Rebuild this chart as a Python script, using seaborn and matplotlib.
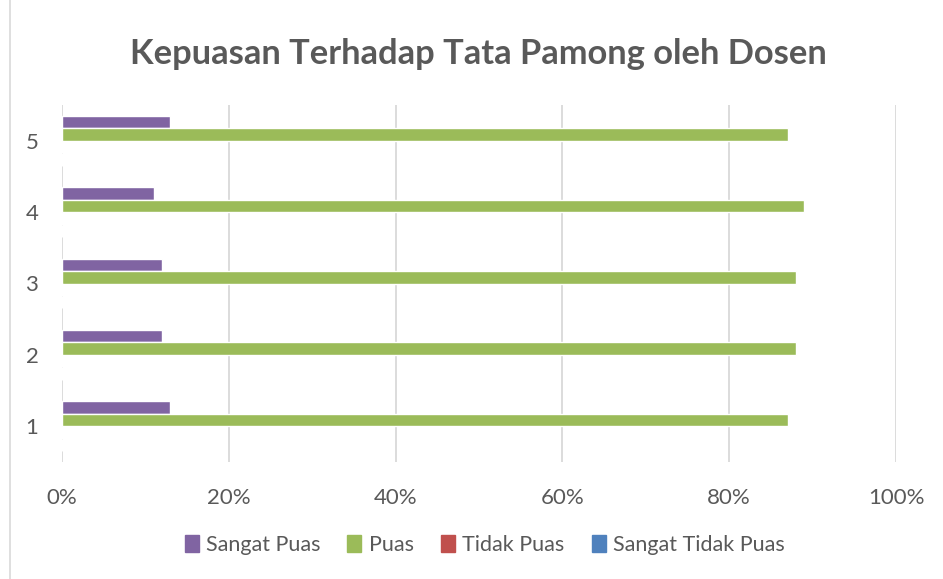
import pandas as pd
import numpy as np
import matplotlib.pyplot as plt
import seaborn as sns
from matplotlib.lines import Line2D
from matplotlib.ticker import PercentFormatter

# Data
kategori = ['1', '2', '3', '4', '5']
sangat_puas = [13, 12, 12, 11, 13]
puas = [87, 88, 88, 89, 87]
tidak_puas = [0, 0, 0, 0, 0]
sangat_tidak_puas = [0, 0, 0, 0, 0]

seri = ['Sangat Puas', 'Puas', 'Tidak Puas', 'Sangat Tidak Puas']
warna = ['#8064a2', '#9bbb59', '#c0504d', '#4f81bd']

df = pd.DataFrame({
    'kategori': kategori * 4,
    'nilai': sangat_puas + puas + tidak_puas + sangat_tidak_puas,
    'seri': [s for s in seri for _ in kategori],
})

sns.set_style('white')
plt.rcParams['font.family'] = ['Lato', 'DejaVu Sans']

fig = plt.figure(figsize=(9.43, 5.79), dpi=100)
ax = fig.add_axes([62 / 943, 1 - 462 / 579, (896 - 62) / 943, (462 - 105) / 579])

sns.barplot(data=df, x='nilai', y='kategori', hue='seri', order=kategori[::-1],
            hue_order=seri, palette=warna, width=0.7, orient='h', ax=ax,
            saturation=1, legend=False, zorder=3)

ax.set_xlim(0, 100)
ax.set_ylim(4.5, -0.5)
ax.set_xticks([0, 20, 40, 60, 80, 100])
ax.xaxis.set_major_formatter(PercentFormatter(decimals=0))
ax.grid(axis='x', color='#d9d9d9', linewidth=1.3, zorder=0)
for s in ax.spines.values():
    s.set_visible(False)
ax.tick_params(axis='both', length=0, labelsize=16, labelcolor='#595959')
ax.tick_params(axis='x', pad=19)
ax.tick_params(axis='y', pad=17)
ax.set_xlabel('')
ax.set_ylabel('')

fig.suptitle('Kepuasan Terhadap Tata Pamong oleh Dosen', x=0.507, y=0.935,
             fontsize=24.8, fontweight='bold', color='#595959')

handles = [plt.Rectangle((0, 0), 1, 1, color=c) for c in warna]
fig.legend(handles, seri, loc='center', bbox_to_anchor=(0.514, 1 - 545 / 579), ncol=4,
           frameon=False, fontsize=15.5, handlelength=0.65, handleheight=0.8,
           handletextpad=0.35, columnspacing=1.25, labelcolor='#595959')

fig.add_artist(Line2D([10 / 943, 10 / 943], [0, 1], color='#d9d9d9', linewidth=1.2,
                      transform=fig.transFigure))

plt.savefig('out.png', dpi=100)
